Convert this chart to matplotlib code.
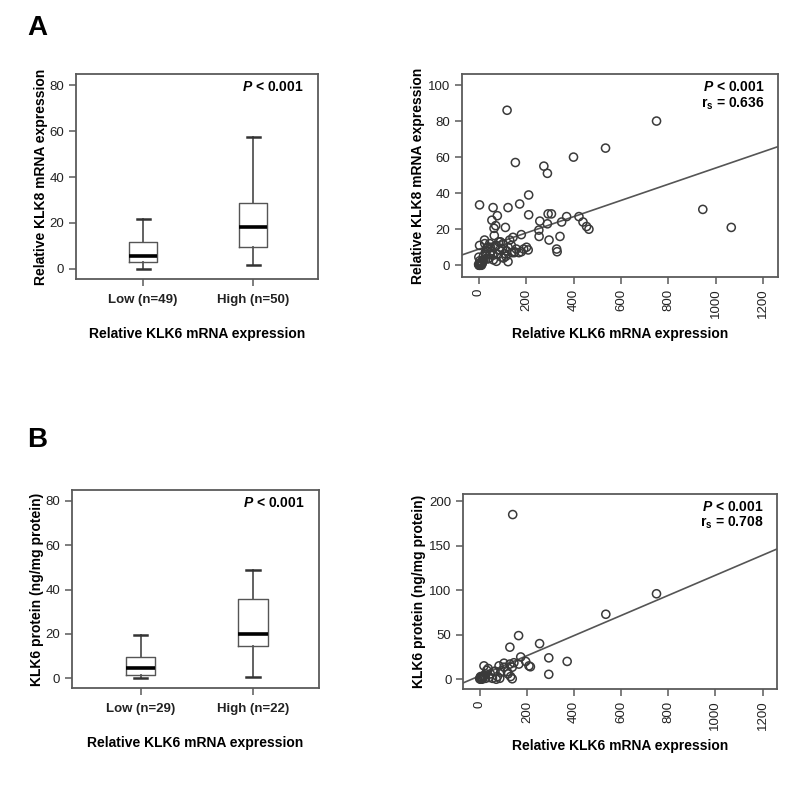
import matplotlib
matplotlib.use("Agg")
import matplotlib.pyplot as plt
import numpy as np

plt.rcParams["font.family"] = ["Liberation Sans", "DejaVu Sans"]
plt.rcParams["mathtext.fontset"] = "custom"
plt.rcParams["mathtext.rm"] = "Liberation Sans:bold"
plt.rcParams["mathtext.it"] = "Liberation Sans:bold:italic"
plt.rcParams["mathtext.bf"] = "Liberation Sans:bold"

# ---------------------------------------------------------------------------
# Data
# ---------------------------------------------------------------------------
box_labels_a = ["Low (n=49)", "High (n=50)"]
# whislo, q1, median, q3, whishi
box_stats_a = [
    [0.0, 3.0, 5.5, 11.5, 21.5],
    [1.5, 9.5, 18.0, 28.5, 57.5],
]

box_labels_b = ["Low (n=29)", "High (n=22)"]
box_stats_b = [
    [0.0, 1.5, 4.5, 9.5, 19.5],
    [0.5, 14.5, 20.0, 35.5, 49.0],
]

# Scatter A: KLK6 mRNA vs KLK8 mRNA
klk6_a = [120, 750, 535, 400, 155, 275, 290, 945, 1065, 211,
          4, 61, 124, 173, 79, 211, 293, 307, 371, 423,
          440, 455, 465, 350, 258, 290, 254, 255, 297, 343,
          329, 331, 56, 72, 65, 113, 66, 145, 180, 202,
          209, 180, 152, 124, 75, 25, 4, 47, 75, 103,
          131, 89, 60, 39, 4, 6, 18, 1, 96, 110,
          159, 124, 32, 50, 82, 10, 14, 20, 28, 35,
          8, 12, 2, 0, 5, 15, 22, 30, 45, 55,
          68, 85, 100, 115, 138, 140, 40, 92, 105, 118,
          3, 9, 16, 26, 48, 62, 150, 170, 190]
klk8_a = [86, 80, 65, 60, 57, 55, 51, 31, 21, 39,
          33.5, 32, 32, 34, 27.5, 28, 28.5, 28.5, 27, 27,
          24, 21.5, 20, 24, 24.5, 23, 19.5, 16, 14, 16,
          9, 7.5, 25, 22, 20.5, 21, 16.5, 15.5, 17, 10,
          8.5, 7.5, 7.5, 2, 2.2, 14, 11, 12, 11, 12,
          14, 8.5, 5.5, 3.5, 1, 0, 3, 4.5, 4.5, 6.5,
          9, 10, 8, 10, 6, 0.5, 2, 5, 7, 9.5,
          1.5, 0, 0, 0.5, 2.5, 1, 3, 6, 4, 8,
          10.5, 13, 9, 5, 11, 7, 10, 13, 4, 8,
          0, 0.5, 1.5, 12, 6, 3, 7, 7, 9]
fit_a = (8.9, 0.0451)  # intercept, slope

# Scatter B: KLK6 mRNA vs KLK6 protein
klk6_b = [140, 750, 535, 165, 254, 128, 293, 371, 293, 174,
          195, 209, 215, 145, 128, 103, 82, 18, 36, 60,
          89, 117, 131, 138, 75, 54, 4, 11, 25, 103,
          138, 166, 0, 5, 8, 12, 15, 20, 25, 3,
          30, 40, 45, 65, 85, 120, 10, 2, 6, 18, 70]
prot_b = [185, 96, 73, 49, 40, 36, 24, 20, 5.5, 25,
          20, 15, 14, 18.5, 17, 18, 15, 15, 12, 8.5,
          8, 8.5, 3, 0.5, 3, 1, 3, 1.5, 6, 13.5,
          13.5, 17, 0.5, 1, 2, 1, 3, 4, 1, 0,
          10, 2, 6, 9, 1, 6, 0, 2, 0.5, 4, 0]
fit_b = (3.8, 0.113)

# ---------------------------------------------------------------------------
# Styling helpers
# ---------------------------------------------------------------------------
SPINE = "#5a5a5a"
TICK_FS = 9.5
LABEL_FS = 10


def style_axes(ax):
    for s in ax.spines.values():
        s.set_color(SPINE)
        s.set_linewidth(1.3)
    ax.tick_params(direction="out", length=5, width=1.1, color=SPINE,
                   labelsize=TICK_FS, labelcolor="#222222")


def draw_box(ax, stats, labels, ylabel):
    bxp_stats = [
        dict(whislo=s[0], q1=s[1], med=s[2], q3=s[3], whishi=s[4], fliers=[])
        for s in stats
    ]
    ax.bxp(bxp_stats, positions=[1, 2], widths=0.26, capwidths=0.12,
           showfliers=False,
           boxprops=dict(color="#555555", linewidth=1.0),
           whiskerprops=dict(color="#555555", linewidth=1.3),
           capprops=dict(color="#333333", linewidth=1.8),
           medianprops=dict(color="black", linewidth=2.6))
    ax.set_xlim(0.39, 2.59)
    ax.set_ylim(-4.5, 85)
    ax.set_yticks([0, 20, 40, 60, 80])
    ax.set_xticks([1, 2])
    ax.set_xticklabels(labels, fontweight="bold", fontsize=9)
    ax.set_ylabel(ylabel, fontweight="bold", fontsize=LABEL_FS, labelpad=1)
    ax.set_xlabel("Relative KLK6 mRNA expression", fontweight="bold",
                  fontsize=LABEL_FS, labelpad=15)
    style_axes(ax)
    ax.tick_params(axis="x", pad=6)
    ax.text(0.94, 0.935, r"$\it{P}$ < 0.001", transform=ax.transAxes,
            ha="right", va="center", fontsize=LABEL_FS, fontweight="bold")


def draw_scatter(ax, x, y, fit, ylim, yticks, ylabel, rs):
    ax.scatter(x, y, s=34, facecolors="none", edgecolors="#3a3a3a",
               linewidths=1.1, zorder=3)
    ax.axline((0, fit[0]), slope=fit[1], color="#555555", linewidth=1.2,
              zorder=2)
    ax.set_xlim(-70, 1262)
    ax.set_ylim(*ylim)
    ax.set_xticks([0, 200, 400, 600, 800, 1000, 1200])
    ax.set_yticks(yticks)
    ax.tick_params(axis="x", labelrotation=90)
    ax.set_ylabel(ylabel, fontweight="bold", fontsize=LABEL_FS, labelpad=2)
    ax.set_xlabel("Relative KLK6 mRNA expression", fontweight="bold",
                  fontsize=LABEL_FS, labelpad=6)
    style_axes(ax)
    ax.text(0.957, 0.935, r"$\it{P}$ < 0.001", transform=ax.transAxes,
            ha="right", va="center", fontsize=LABEL_FS, fontweight="bold")
    ax.text(0.957, 0.855, r"r$_\mathregular{s}$ = " + rs,
            transform=ax.transAxes, ha="right", va="center",
            fontsize=LABEL_FS, fontweight="bold")


fig = plt.figure(figsize=(8, 7.86), dpi=100)

ax1 = fig.add_axes([0.095, 0.645, 0.3025, 0.261])
draw_box(ax1, box_stats_a, box_labels_a, "Relative KLK8 mRNA expression")

ax2 = fig.add_axes([0.5775, 0.6476, 0.395, 0.258])
draw_scatter(ax2, klk6_a, klk8_a, fit_a, (-6.5, 106), [0, 20, 40, 60, 80, 100],
             "Relative KLK8 mRNA expression", "0.636")

ax3 = fig.add_axes([0.09, 0.1247, 0.309, 0.252])
draw_box(ax3, box_stats_b, box_labels_b, "KLK6 protein (ng/mg protein)")

ax4 = fig.add_axes([0.579, 0.1234, 0.3925, 0.248])
draw_scatter(ax4, klk6_b, prot_b, fit_b, (-11, 208), [0, 50, 100, 150, 200],
             "KLK6 protein (ng/mg protein)", "0.708")

fig.text(0.047, 0.965, "A", fontsize=20, fontweight="bold", ha="center",
         va="center")
fig.text(0.047, 0.44, "B", fontsize=20, fontweight="bold", ha="center",
         va="center")

fig.savefig("out.png", dpi=100)
